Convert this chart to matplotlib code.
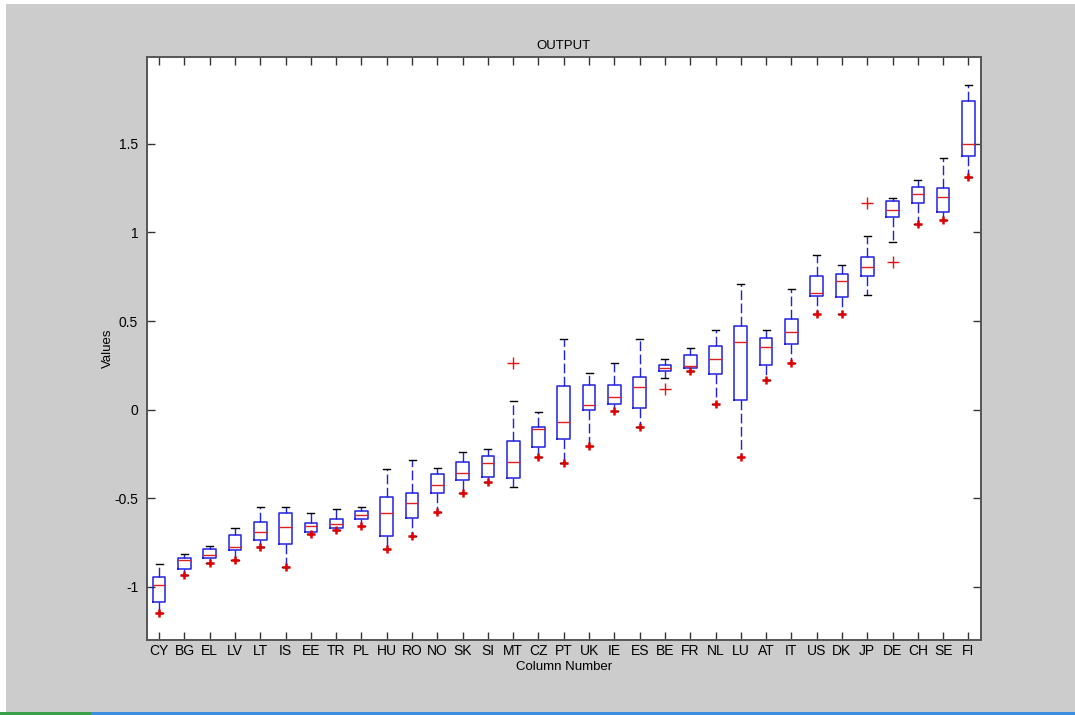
import matplotlib.pyplot as plt
from matplotlib.patches import Rectangle

# Per-country distribution summaries (sorted by median)
countries = ["CY", "BG", "EL", "LV", "LT", "IS", "EE", "TR", "PL", "HU", "RO",
             "NO", "SK", "SI", "MT", "CZ", "PT", "UK", "IE", "ES", "BE", "FR",
             "NL", "LU", "AT", "IT", "US", "DK", "JP", "DE", "CH", "SE", "FI"]
whisker_hi = [-0.870, -0.812, -0.769, -0.669, -0.547, -0.547, -0.586, -0.562,
              -0.551, -0.336, -0.284, -0.331, -0.237, -0.223, 0.049, -0.015,
              0.397, 0.209, 0.262, 0.399, 0.284, 0.348, 0.448, 0.709, 0.451,
              0.679, 0.874, 0.814, 0.981, 1.192, 1.294, 1.419, 1.833]
q3 = [-0.945, -0.840, -0.784, -0.705, -0.633, -0.586, -0.641, -0.615, -0.571,
      -0.491, -0.472, -0.364, -0.297, -0.263, -0.178, -0.096, 0.135, 0.139,
      0.141, 0.183, 0.252, 0.310, 0.358, 0.474, 0.406, 0.510, 0.756, 0.764,
      0.863, 1.175, 1.254, 1.250, 1.739]
median = [-0.987, -0.849, -0.821, -0.774, -0.692, -0.661, -0.656, -0.646,
          -0.592, -0.586, -0.528, -0.426, -0.359, -0.301, -0.295, -0.109,
          -0.071, 0.025, 0.073, 0.130, 0.233, 0.245, 0.284, 0.382, 0.352,
          0.438, 0.656, 0.724, 0.805, 1.124, 1.215, 1.198, 1.500]
q1 = [-1.088, -0.900, -0.838, -0.793, -0.737, -0.759, -0.688, -0.669, -0.620,
      -0.714, -0.609, -0.468, -0.396, -0.381, -0.385, -0.210, -0.167, -0.003,
      0.034, 0.008, 0.220, 0.235, 0.203, 0.056, 0.250, 0.369, 0.639, 0.634,
      0.756, 1.087, 1.166, 1.113, 1.431]
whisker_lo = [-1.145, -0.932, -0.863, -0.846, -0.776, -0.887, -0.703, -0.680,
              -0.654, -0.787, -0.714, -0.577, -0.470, -0.406, -0.434, -0.267,
              -0.299, -0.205, -0.006, -0.098, 0.177, 0.217, 0.034, -0.267,
              0.169, 0.263, 0.541, 0.541, 0.645, 0.947, 1.049, 1.071, 1.311]
# Minimum points flagged at the lower whisker end (None = not flagged)
low_flags = [-1.145, -0.932, -0.863, -0.846, -0.776, -0.887, -0.703, -0.680,
             -0.654, -0.787, -0.714, -0.577, -0.470, -0.406, None, -0.267,
             -0.299, -0.205, -0.006, -0.098, None, 0.217, 0.034, -0.267,
             0.169, 0.263, 0.541, 0.541, None, None, 1.049, 1.071, 1.311]
# Outliers beyond the whiskers
outliers = {"MT": [0.262], "BE": [0.117], "JP": [1.167], "DE": [0.831]}

plt.rcParams["font.family"] = ["Liberation Sans Narrow", "Liberation Sans", "DejaVu Sans"]

fig = plt.figure(figsize=(10.75, 7.15), dpi=100, facecolor="#cccccc")
ax = fig.add_axes([0.1363, 0.1049, 0.7763, 0.8154])

stats = []
for i, name in enumerate(countries):
    stats.append(dict(label=name, whislo=whisker_lo[i], q1=q1[i], med=median[i],
                      q3=q3[i], whishi=whisker_hi[i],
                      fliers=outliers.get(name, [])))

blue = "#2020e0"
positions = list(range(1, len(countries) + 1))
ax.bxp(stats, positions=positions, widths=0.5, capwidths=0.28,
       boxprops=dict(color=blue, linewidth=1.1),
       whiskerprops=dict(color=blue, linewidth=1.0, linestyle=(0, (7, 2.5))),
       capprops=dict(color="black", linewidth=1.0),
       medianprops=dict(color="#e02020", linewidth=1.0),
       flierprops=dict(marker="+", markeredgecolor="#e81010", markersize=8,
                       markeredgewidth=1.0, linestyle="none"))

# Red markers at the flagged lower whisker ends
for x, v in zip(positions, low_flags):
    if v is not None:
        ax.plot(x, v, marker="+", color="#e00000", markersize=5.5,
                markeredgewidth=1.8, linestyle="none", zorder=4)

ax.set_xlim(0.5, len(countries) + 0.5)
ax.set_ylim(-1.3, 1.99)
ax.set_yticks([-1, -0.5, 0, 0.5, 1, 1.5])
ax.set_yticklabels(["-1", "-0.5", "0", "0.5", "1", "1.5"])
ax.set_xticks(positions)
ax.set_xticklabels(countries)
ax.tick_params(direction="in", length=6, width=1.0, color="#333333",
               top=True, right=True, labelsize=10, pad=6)
ax.tick_params(axis="x", pad=3)
for spine in ax.spines.values():
    spine.set_color("#555555")
    spine.set_linewidth(1.4)

ax.set_title("OUTPUT", fontsize=9.5, pad=6)
ax.set_xlabel("Column Number", fontsize=9.5, labelpad=2)
ax.set_ylabel("Values", fontsize=9.5, labelpad=0)

# Window frame edges
fig.patches.append(Rectangle((0, 0), 0.0056, 1, transform=fig.transFigure,
                             facecolor="white", edgecolor="none"))
fig.patches.append(Rectangle((0, 0.9944), 1, 0.0056, transform=fig.transFigure,
                             facecolor="white", edgecolor="none"))
fig.patches.append(Rectangle((0, 0), 1, 0.004, transform=fig.transFigure,
                             facecolor="#3c8ee0", edgecolor="none"))
fig.patches.append(Rectangle((0, 0), 0.085, 0.004, transform=fig.transFigure,
                             facecolor="#3aa04a", edgecolor="none"))

fig.savefig("out.png", dpi=100, facecolor=fig.get_facecolor())
